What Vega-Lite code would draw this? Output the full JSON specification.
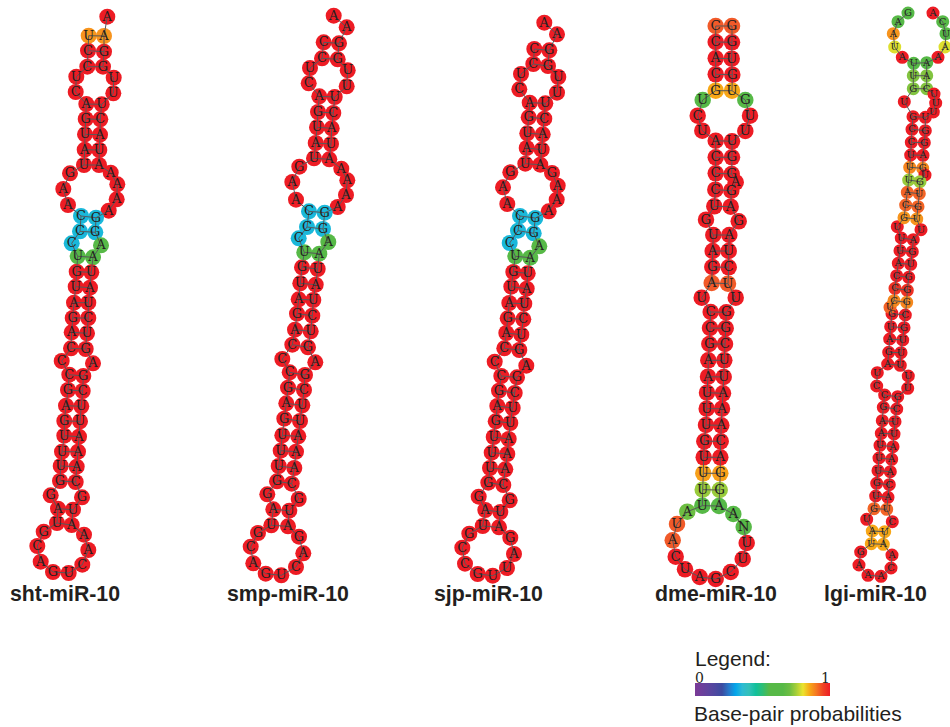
{"$schema":"https://vega.github.io/schema/vega-lite/v6.json","width":950,"height":727,"padding":0,"autosize":{"type":"none"},"background":"white","config":{"view":{"stroke":null}},
"datasets":{"nodes":[
{"h":"sht","b":"A","x":107.3,"y":16.7,"p":1},{"h":"sht","b":"A","x":104,"y":36,"p":0.865,"k":1},{"h":"sht","b":"G","x":104,"y":51.7,"p":1,"k":2},{"h":"sht","b":"G","x":103,"y":66.7,"p":1,"k":3},{"h":"sht","b":"U","x":113.7,"y":77.7,"p":1},{"h":"sht","b":"U","x":113.3,"y":93.3,"p":1},{"h":"sht","b":"U","x":101.7,"y":104.3,"p":1,"k":4},{"h":"sht","b":"C","x":100.3,"y":119.3,"p":1,"k":5},{"h":"sht","b":"A","x":100,"y":134.7,"p":1,"k":6},{"h":"sht","b":"U","x":99.3,"y":150,"p":1,"k":7},{"h":"sht","b":"A","x":99,"y":165,"p":1,"k":8},{"h":"sht","b":"A","x":110.7,"y":172.7,"p":1},{"h":"sht","b":"A","x":117.3,"y":184.3,"p":1},{"h":"sht","b":"A","x":116.7,"y":199.3,"p":1},{"h":"sht","b":"A","x":108.7,"y":210.7,"p":1},{"h":"sht","b":"G","x":96,"y":217.7,"p":0.34,"k":9},{"h":"sht","b":"G","x":95.3,"y":232.3,"p":0.34,"k":10},{"h":"sht","b":"A","x":101,"y":245.3,"p":0.6},{"h":"sht","b":"A","x":93,"y":257.3,"p":0.6,"k":11},{"h":"sht","b":"U","x":91.3,"y":272.3,"p":1,"k":12},{"h":"sht","b":"A","x":90,"y":287.7,"p":1,"k":13},{"h":"sht","b":"U","x":88.3,"y":302.7,"p":1,"k":14},{"h":"sht","b":"C","x":88.3,"y":318,"p":1,"k":15},{"h":"sht","b":"U","x":87,"y":333.3,"p":1,"k":16},{"h":"sht","b":"G","x":85.7,"y":349,"p":1,"k":17},{"h":"sht","b":"A","x":93,"y":363.3,"p":1},{"h":"sht","b":"G","x":83.3,"y":376,"p":1,"k":18},{"h":"sht","b":"C","x":82.7,"y":391,"p":1,"k":19},{"h":"sht","b":"U","x":81.3,"y":406.3,"p":1,"k":20},{"h":"sht","b":"U","x":80,"y":421.3,"p":1,"k":21},{"h":"sht","b":"A","x":79,"y":436.7,"p":1,"k":22},{"h":"sht","b":"A","x":78,"y":451.7,"p":1,"k":23},{"h":"sht","b":"A","x":76.7,"y":466.7,"p":1,"k":24},{"h":"sht","b":"C","x":75.7,"y":482,"p":1,"k":25},{"h":"sht","b":"G","x":82,"y":497.3,"p":1},{"h":"sht","b":"U","x":73,"y":509.7,"p":1,"k":26},{"h":"sht","b":"A","x":71.7,"y":525,"p":1,"k":27},{"h":"sht","b":"A","x":84,"y":534.7,"p":1},{"h":"sht","b":"A","x":88.3,"y":550,"p":1},{"h":"sht","b":"C","x":82.3,"y":564.7,"p":1},{"h":"sht","b":"U","x":68.7,"y":573,"p":1},{"h":"sht","b":"G","x":53,"y":572,"p":1},{"h":"sht","b":"A","x":40.7,"y":561.7,"p":1},{"h":"sht","b":"C","x":37.3,"y":546,"p":1},{"h":"sht","b":"G","x":43.7,"y":531.7,"p":1},{"h":"sht","b":"U","x":57,"y":523,"p":1,"k":27},{"h":"sht","b":"A","x":58,"y":508.7,"p":1,"k":26},{"h":"sht","b":"G","x":50.7,"y":495.3,"p":1},{"h":"sht","b":"G","x":60,"y":481,"p":1,"k":25},{"h":"sht","b":"U","x":60.7,"y":466,"p":1,"k":24},{"h":"sht","b":"U","x":62,"y":451.7,"p":1,"k":23},{"h":"sht","b":"U","x":64.3,"y":435.7,"p":1,"k":22},{"h":"sht","b":"G","x":64.3,"y":421,"p":1,"k":21},{"h":"sht","b":"A","x":66,"y":405.7,"p":1,"k":20},{"h":"sht","b":"G","x":68,"y":390,"p":1,"k":19},{"h":"sht","b":"C","x":69.3,"y":374.7,"p":1,"k":18},{"h":"sht","b":"C","x":61.7,"y":361,"p":1},{"h":"sht","b":"C","x":71,"y":348.3,"p":1,"k":17},{"h":"sht","b":"A","x":71.7,"y":332.3,"p":1,"k":16},{"h":"sht","b":"G","x":72.7,"y":318,"p":1,"k":15},{"h":"sht","b":"A","x":74,"y":302.7,"p":1,"k":14},{"h":"sht","b":"U","x":75.7,"y":286.7,"p":1,"k":13},{"h":"sht","b":"G","x":76.7,"y":271.7,"p":1,"k":12},{"h":"sht","b":"U","x":77.7,"y":256.3,"p":0.6,"k":11},{"h":"sht","b":"C","x":71.7,"y":243.3,"p":0.34},{"h":"sht","b":"C","x":80,"y":231.3,"p":0.34,"k":10},{"h":"sht","b":"C","x":81,"y":216,"p":0.34,"k":9},{"h":"sht","b":"A","x":68,"y":205,"p":1},{"h":"sht","b":"A","x":63.3,"y":189,"p":1},{"h":"sht","b":"G","x":70,"y":173.3,"p":1},{"h":"sht","b":"U","x":84,"y":165,"p":1,"k":8},{"h":"sht","b":"A","x":84.7,"y":149.7,"p":1,"k":7},{"h":"sht","b":"U","x":85,"y":134.3,"p":1,"k":6},{"h":"sht","b":"G","x":85.7,"y":119,"p":1,"k":5},{"h":"sht","b":"A","x":86.3,"y":104,"p":1,"k":4},{"h":"sht","b":"C","x":75.7,"y":92,"p":1},{"h":"sht","b":"U","x":76.3,"y":76.7,"p":1},{"h":"sht","b":"C","x":87.3,"y":66.7,"p":1,"k":3},{"h":"sht","b":"C","x":88,"y":50.7,"p":1,"k":2},{"h":"sht","b":"U","x":88.7,"y":35.7,"p":0.865,"k":1},
{"h":"smp","b":"A","x":333.7,"y":15.7,"p":1},{"h":"smp","b":"A","x":346.7,"y":27.3,"p":1},{"h":"smp","b":"G","x":339,"y":43.3,"p":1,"k":2},{"h":"smp","b":"G","x":337.7,"y":59.3,"p":1,"k":3},{"h":"smp","b":"U","x":347.7,"y":70.3,"p":1},{"h":"smp","b":"U","x":346.7,"y":86.3,"p":1},{"h":"smp","b":"U","x":334.7,"y":97,"p":1,"k":4},{"h":"smp","b":"C","x":333.3,"y":113,"p":1,"k":5},{"h":"smp","b":"A","x":331.7,"y":128.3,"p":1,"k":6},{"h":"smp","b":"U","x":331,"y":144,"p":1,"k":7},{"h":"smp","b":"A","x":329.3,"y":159.3,"p":1,"k":8},{"h":"smp","b":"A","x":341.3,"y":168.7,"p":1},{"h":"smp","b":"A","x":347.3,"y":180.3,"p":1},{"h":"smp","b":"A","x":346,"y":195,"p":1},{"h":"smp","b":"A","x":337.7,"y":207,"p":1},{"h":"smp","b":"G","x":324.7,"y":212.7,"p":0.34,"k":9},{"h":"smp","b":"G","x":323,"y":229,"p":0.34,"k":10},{"h":"smp","b":"A","x":328.3,"y":242,"p":0.6},{"h":"smp","b":"A","x":319.3,"y":253.7,"p":0.6,"k":11},{"h":"smp","b":"U","x":317.7,"y":269,"p":1,"k":12},{"h":"smp","b":"A","x":315.7,"y":284.7,"p":1,"k":13},{"h":"smp","b":"U","x":313.3,"y":300,"p":1,"k":14},{"h":"smp","b":"C","x":312.3,"y":315.7,"p":1,"k":15},{"h":"smp","b":"U","x":310.7,"y":331.3,"p":1,"k":16},{"h":"smp","b":"G","x":308,"y":347.3,"p":1,"k":17},{"h":"smp","b":"A","x":315.3,"y":362.3,"p":1},{"h":"smp","b":"G","x":305,"y":375,"p":1,"k":18},{"h":"smp","b":"C","x":304,"y":390,"p":1,"k":19},{"h":"smp","b":"U","x":302.3,"y":405.3,"p":1,"k":20},{"h":"smp","b":"U","x":300,"y":421,"p":1,"k":21},{"h":"smp","b":"A","x":298.3,"y":436.3,"p":1,"k":22},{"h":"smp","b":"A","x":296,"y":451.7,"p":1,"k":23},{"h":"smp","b":"A","x":294.3,"y":468,"p":1,"k":24},{"h":"smp","b":"C","x":291.7,"y":483.7,"p":1,"k":25},{"h":"smp","b":"G","x":298.7,"y":499,"p":1},{"h":"smp","b":"U","x":289.3,"y":510.7,"p":1,"k":26},{"h":"smp","b":"A","x":288,"y":526.3,"p":1,"k":27},{"h":"smp","b":"G","x":299,"y":536.7,"p":1},{"h":"smp","b":"A","x":303.3,"y":553.3,"p":1},{"h":"smp","b":"C","x":296,"y":567,"p":1},{"h":"smp","b":"U","x":281.3,"y":575.3,"p":1},{"h":"smp","b":"G","x":265.7,"y":573.7,"p":1},{"h":"smp","b":"A","x":253.3,"y":563.3,"p":1},{"h":"smp","b":"C","x":250.7,"y":546.7,"p":1},{"h":"smp","b":"G","x":258,"y":533,"p":1},{"h":"smp","b":"U","x":271.3,"y":525.3,"p":1,"k":27},{"h":"smp","b":"A","x":273.3,"y":509.3,"p":1,"k":26},{"h":"smp","b":"G","x":267.3,"y":494.3,"p":1},{"h":"smp","b":"G","x":277,"y":481.3,"p":1,"k":25},{"h":"smp","b":"U","x":278.7,"y":466,"p":1,"k":24},{"h":"smp","b":"U","x":280.7,"y":450.7,"p":1,"k":23},{"h":"smp","b":"U","x":282.3,"y":435.3,"p":1,"k":22},{"h":"smp","b":"G","x":284.3,"y":418.7,"p":1,"k":21},{"h":"smp","b":"A","x":286.3,"y":403.3,"p":1,"k":20},{"h":"smp","b":"G","x":288,"y":387.7,"p":1,"k":19},{"h":"smp","b":"C","x":289.7,"y":372.3,"p":1,"k":18},{"h":"smp","b":"C","x":282.3,"y":359,"p":1},{"h":"smp","b":"C","x":292.3,"y":344.7,"p":1,"k":17},{"h":"smp","b":"A","x":295,"y":329.7,"p":1,"k":16},{"h":"smp","b":"G","x":297,"y":313.7,"p":1,"k":15},{"h":"smp","b":"A","x":298.7,"y":299.3,"p":1,"k":14},{"h":"smp","b":"U","x":300.3,"y":283.3,"p":1,"k":13},{"h":"smp","b":"G","x":302,"y":267.3,"p":1,"k":12},{"h":"smp","b":"U","x":304.3,"y":252.3,"p":0.6,"k":11},{"h":"smp","b":"C","x":298.7,"y":238.3,"p":0.34},{"h":"smp","b":"C","x":307,"y":227,"p":0.34,"k":10},{"h":"smp","b":"C","x":309,"y":211.3,"p":0.34,"k":9},{"h":"smp","b":"A","x":296,"y":199.7,"p":1},{"h":"smp","b":"A","x":292.3,"y":182,"p":1},{"h":"smp","b":"G","x":299.3,"y":166.7,"p":1},{"h":"smp","b":"U","x":314,"y":158.3,"p":1,"k":8},{"h":"smp","b":"A","x":315.7,"y":143,"p":1,"k":7},{"h":"smp","b":"U","x":317,"y":127.3,"p":1,"k":6},{"h":"smp","b":"G","x":318,"y":112,"p":1,"k":5},{"h":"smp","b":"A","x":319.3,"y":96.3,"p":1,"k":4},{"h":"smp","b":"C","x":308.7,"y":83.3,"p":1},{"h":"smp","b":"U","x":310,"y":68,"p":1},{"h":"smp","b":"C","x":322,"y":58.3,"p":1,"k":3},{"h":"smp","b":"C","x":323.7,"y":42.3,"p":1,"k":2},
{"h":"sjp","b":"A","x":544.3,"y":22.7,"p":1},{"h":"sjp","b":"A","x":557,"y":34.3,"p":1},{"h":"sjp","b":"G","x":549.3,"y":50.3,"p":1,"k":2},{"h":"sjp","b":"G","x":548,"y":66,"p":1,"k":3},{"h":"sjp","b":"U","x":558.3,"y":77,"p":1},{"h":"sjp","b":"U","x":557,"y":92.7,"p":1},{"h":"sjp","b":"U","x":545.3,"y":103.3,"p":1,"k":4},{"h":"sjp","b":"C","x":544.3,"y":118.7,"p":1,"k":5},{"h":"sjp","b":"A","x":542.7,"y":134.3,"p":1,"k":6},{"h":"sjp","b":"U","x":541.7,"y":149.7,"p":1,"k":7},{"h":"sjp","b":"A","x":540.3,"y":164.7,"p":1,"k":8},{"h":"sjp","b":"G","x":552,"y":173,"p":1},{"h":"sjp","b":"A","x":557.7,"y":185.7,"p":1},{"h":"sjp","b":"A","x":556.7,"y":199.7,"p":1},{"h":"sjp","b":"A","x":548.7,"y":211.3,"p":1},{"h":"sjp","b":"G","x":535.3,"y":218,"p":0.34,"k":9},{"h":"sjp","b":"G","x":533.7,"y":233.3,"p":0.34,"k":10},{"h":"sjp","b":"A","x":539.3,"y":246.3,"p":0.6},{"h":"sjp","b":"A","x":530.3,"y":257.7,"p":0.6,"k":11},{"h":"sjp","b":"U","x":527.7,"y":273.3,"p":1,"k":12},{"h":"sjp","b":"A","x":526.7,"y":288.7,"p":1,"k":13},{"h":"sjp","b":"U","x":524.3,"y":303.7,"p":1,"k":14},{"h":"sjp","b":"C","x":523.3,"y":319.3,"p":1,"k":15},{"h":"sjp","b":"U","x":521.3,"y":334.7,"p":1,"k":16},{"h":"sjp","b":"G","x":519.3,"y":350,"p":1,"k":17},{"h":"sjp","b":"A","x":526.3,"y":365.7,"p":1},{"h":"sjp","b":"G","x":517,"y":377.3,"p":1,"k":18},{"h":"sjp","b":"C","x":514.7,"y":393,"p":1,"k":19},{"h":"sjp","b":"U","x":512.7,"y":408,"p":1,"k":20},{"h":"sjp","b":"U","x":510.3,"y":423,"p":1,"k":21},{"h":"sjp","b":"A","x":508.7,"y":439,"p":1,"k":22},{"h":"sjp","b":"A","x":507.3,"y":454,"p":1,"k":23},{"h":"sjp","b":"A","x":505.3,"y":469.3,"p":1,"k":24},{"h":"sjp","b":"C","x":503.3,"y":485,"p":1,"k":25},{"h":"sjp","b":"G","x":509.7,"y":500.3,"p":1},{"h":"sjp","b":"U","x":500.3,"y":512,"p":1,"k":26},{"h":"sjp","b":"A","x":499,"y":527.3,"p":1,"k":27},{"h":"sjp","b":"G","x":510.3,"y":537.7,"p":1},{"h":"sjp","b":"A","x":514,"y":554,"p":1},{"h":"sjp","b":"U","x":507,"y":568,"p":1},{"h":"sjp","b":"U","x":492.7,"y":575.7,"p":1},{"h":"sjp","b":"G","x":477.7,"y":574,"p":1},{"h":"sjp","b":"C","x":465,"y":563.7,"p":1},{"h":"sjp","b":"C","x":462.3,"y":547.7,"p":1},{"h":"sjp","b":"G","x":469.3,"y":533.7,"p":1},{"h":"sjp","b":"U","x":482.7,"y":526,"p":1,"k":27},{"h":"sjp","b":"A","x":485.3,"y":510,"p":1,"k":26},{"h":"sjp","b":"G","x":478.7,"y":496.7,"p":1},{"h":"sjp","b":"G","x":488.3,"y":482.7,"p":1,"k":25},{"h":"sjp","b":"U","x":490,"y":468,"p":1,"k":24},{"h":"sjp","b":"U","x":491.7,"y":452.7,"p":1,"k":23},{"h":"sjp","b":"U","x":493.7,"y":437,"p":1,"k":22},{"h":"sjp","b":"G","x":495.7,"y":421.3,"p":1,"k":21},{"h":"sjp","b":"A","x":497.3,"y":406,"p":1,"k":20},{"h":"sjp","b":"G","x":499,"y":390.7,"p":1,"k":19},{"h":"sjp","b":"C","x":501.3,"y":376,"p":1,"k":18},{"h":"sjp","b":"C","x":494.7,"y":361.7,"p":1},{"h":"sjp","b":"C","x":504.3,"y":348.3,"p":1,"k":17},{"h":"sjp","b":"A","x":506.3,"y":333,"p":1,"k":16},{"h":"sjp","b":"G","x":507.7,"y":318.3,"p":1,"k":15},{"h":"sjp","b":"A","x":509.3,"y":303,"p":1,"k":14},{"h":"sjp","b":"U","x":511.3,"y":286.7,"p":1,"k":13},{"h":"sjp","b":"G","x":513.3,"y":272,"p":1,"k":12},{"h":"sjp","b":"U","x":515.3,"y":256.3,"p":0.6,"k":11},{"h":"sjp","b":"C","x":509.7,"y":243,"p":0.34},{"h":"sjp","b":"C","x":518,"y":230.7,"p":0.34,"k":10},{"h":"sjp","b":"C","x":520,"y":216,"p":0.34,"k":9},{"h":"sjp","b":"A","x":507.3,"y":204,"p":1},{"h":"sjp","b":"A","x":503,"y":187.3,"p":1},{"h":"sjp","b":"G","x":510.3,"y":172.3,"p":1},{"h":"sjp","b":"U","x":525.3,"y":163.7,"p":1,"k":8},{"h":"sjp","b":"A","x":526.7,"y":148,"p":1,"k":7},{"h":"sjp","b":"U","x":527.3,"y":133.3,"p":1,"k":6},{"h":"sjp","b":"G","x":528.7,"y":117.3,"p":1,"k":5},{"h":"sjp","b":"A","x":529.7,"y":102.7,"p":1,"k":4},{"h":"sjp","b":"C","x":519.3,"y":89.3,"p":1},{"h":"sjp","b":"U","x":521,"y":74,"p":1},{"h":"sjp","b":"C","x":533.3,"y":64,"p":1,"k":3},{"h":"sjp","b":"C","x":534.3,"y":49,"p":1,"k":2},
{"h":"dme","b":"C","x":715.7,"y":26,"p":0.93,"k":1},{"h":"dme","b":"C","x":715.7,"y":42,"p":1,"k":2},{"h":"dme","b":"A","x":715.7,"y":58.3,"p":1,"k":3},{"h":"dme","b":"C","x":715.7,"y":74.3,"p":1,"k":4},{"h":"dme","b":"G","x":715.7,"y":90.7,"p":0.85,"k":5},{"h":"dme","b":"U","x":702.7,"y":100,"p":0.62},{"h":"dme","b":"C","x":697.7,"y":115.7,"p":1},{"h":"dme","b":"U","x":702.3,"y":130.7,"p":1},{"h":"dme","b":"A","x":715.7,"y":140.7,"p":1,"k":6},{"h":"dme","b":"C","x":715.7,"y":157.3,"p":1,"k":7},{"h":"dme","b":"C","x":715.7,"y":173.3,"p":1,"k":8},{"h":"dme","b":"C","x":715.3,"y":189.7,"p":1,"k":9},{"h":"dme","b":"U","x":714.3,"y":206.3,"p":1,"k":10},{"h":"dme","b":"G","x":706,"y":219.7,"p":1},{"h":"dme","b":"U","x":713.3,"y":235,"p":1,"k":11},{"h":"dme","b":"A","x":712.7,"y":251,"p":1,"k":12},{"h":"dme","b":"G","x":712.3,"y":267,"p":1,"k":13},{"h":"dme","b":"A","x":711.7,"y":283,"p":0.93,"k":14},{"h":"dme","b":"U","x":701.7,"y":297.7,"p":1},{"h":"dme","b":"C","x":710.7,"y":312,"p":1,"k":15},{"h":"dme","b":"C","x":710,"y":328,"p":1,"k":16},{"h":"dme","b":"G","x":709.3,"y":344,"p":1,"k":17},{"h":"dme","b":"A","x":708.3,"y":360.3,"p":1,"k":18},{"h":"dme","b":"A","x":708,"y":376.7,"p":1,"k":19},{"h":"dme","b":"U","x":707,"y":392.7,"p":1,"k":20},{"h":"dme","b":"U","x":706.7,"y":408.7,"p":1,"k":21},{"h":"dme","b":"U","x":706,"y":425,"p":1,"k":22},{"h":"dme","b":"G","x":704.3,"y":441.3,"p":1,"k":23},{"h":"dme","b":"U","x":703.7,"y":457.3,"p":1,"k":24},{"h":"dme","b":"U","x":703.3,"y":473.3,"p":0.855,"k":25},{"h":"dme","b":"U","x":702.7,"y":489.7,"p":0.74,"k":26},{"h":"dme","b":"U","x":702.3,"y":505.7,"p":0.6,"k":27},{"h":"dme","b":"A","x":687.3,"y":511.7,"p":0.7},{"h":"dme","b":"U","x":677,"y":524,"p":0.93},{"h":"dme","b":"A","x":672.7,"y":540.3,"p":0.93},{"h":"dme","b":"C","x":675.7,"y":556.7,"p":1},{"h":"dme","b":"U","x":685,"y":569.3,"p":1},{"h":"dme","b":"A","x":699.7,"y":577,"p":1},{"h":"dme","b":"G","x":715.7,"y":579,"p":1},{"h":"dme","b":"C","x":730.7,"y":572,"p":1},{"h":"dme","b":"U","x":742.7,"y":559,"p":1},{"h":"dme","b":"U","x":746.7,"y":543,"p":1},{"h":"dme","b":"N","x":743.7,"y":527,"p":0.6},{"h":"dme","b":"A","x":733.3,"y":514,"p":0.6},{"h":"dme","b":"A","x":719,"y":506,"p":0.6,"k":27},{"h":"dme","b":"G","x":719.7,"y":490,"p":0.74,"k":26},{"h":"dme","b":"G","x":720.3,"y":473.3,"p":0.855,"k":25},{"h":"dme","b":"A","x":720.3,"y":457.3,"p":1,"k":24},{"h":"dme","b":"C","x":720.7,"y":441.3,"p":1,"k":23},{"h":"dme","b":"A","x":721.3,"y":425.3,"p":1,"k":22},{"h":"dme","b":"A","x":722,"y":408.7,"p":1,"k":21},{"h":"dme","b":"A","x":723,"y":393.3,"p":1,"k":20},{"h":"dme","b":"U","x":723.7,"y":377,"p":1,"k":19},{"h":"dme","b":"U","x":724.3,"y":360.3,"p":1,"k":18},{"h":"dme","b":"C","x":725,"y":344,"p":1,"k":17},{"h":"dme","b":"G","x":725.7,"y":328.3,"p":1,"k":16},{"h":"dme","b":"G","x":726.3,"y":312.3,"p":1,"k":15},{"h":"dme","b":"U","x":735.7,"y":297.7,"p":1},{"h":"dme","b":"U","x":728,"y":283.7,"p":0.93,"k":14},{"h":"dme","b":"C","x":728.7,"y":267.3,"p":1,"k":13},{"h":"dme","b":"U","x":728.7,"y":251,"p":1,"k":12},{"h":"dme","b":"A","x":729.3,"y":235,"p":1,"k":11},{"h":"dme","b":"G","x":738.7,"y":221.3,"p":1},{"h":"dme","b":"A","x":730.7,"y":206.7,"p":1,"k":10},{"h":"dme","b":"G","x":731.3,"y":190.7,"p":1,"k":9},{"h":"dme","b":"A","x":735.7,"y":182.3,"p":1},{"h":"dme","b":"G","x":731.7,"y":174,"p":1,"k":8},{"h":"dme","b":"G","x":732,"y":157.3,"p":1,"k":7},{"h":"dme","b":"U","x":732,"y":141.3,"p":1,"k":6},{"h":"dme","b":"U","x":745.3,"y":131,"p":1},{"h":"dme","b":"U","x":750,"y":115.7,"p":1},{"h":"dme","b":"G","x":745.3,"y":100,"p":0.62},{"h":"dme","b":"U","x":732,"y":90.7,"p":0.85,"k":5},{"h":"dme","b":"G","x":732.3,"y":74.7,"p":1,"k":4},{"h":"dme","b":"U","x":731.7,"y":58.7,"p":1,"k":3},{"h":"dme","b":"G","x":732,"y":42.3,"p":1,"k":2},{"h":"dme","b":"G","x":732,"y":26,"p":0.93,"k":1},
{"h":"lgi","b":"A","x":933,"y":13,"p":1},{"h":"lgi","b":"C","x":942.7,"y":21.7,"p":0.6},{"h":"lgi","b":"U","x":946,"y":33.7,"p":0.6},{"h":"lgi","b":"A","x":945,"y":47,"p":0.79},{"h":"lgi","b":"A","x":938,"y":57.3,"p":1},{"h":"lgi","b":"A","x":926.7,"y":62.7,"p":0.6,"k":1},{"h":"lgi","b":"A","x":926.7,"y":75.7,"p":0.72,"k":2},{"h":"lgi","b":"C","x":926.7,"y":88.7,"p":0.72,"k":3},{"h":"lgi","b":"U","x":934,"y":94,"p":1},{"h":"lgi","b":"U","x":935.7,"y":103,"p":1},{"h":"lgi","b":"U","x":933.3,"y":112,"p":1},{"h":"lgi","b":"U","x":925.3,"y":117.3,"p":1,"k":4},{"h":"lgi","b":"G","x":925.3,"y":130.7,"p":1,"k":5},{"h":"lgi","b":"G","x":924.3,"y":142.7,"p":1,"k":6},{"h":"lgi","b":"A","x":923,"y":155.3,"p":1,"k":7},{"h":"lgi","b":"G","x":922.7,"y":168.3,"p":0.88,"k":8},{"h":"lgi","b":"U","x":925,"y":175,"p":1},{"h":"lgi","b":"G","x":920,"y":181.7,"p":0.74,"k":9},{"h":"lgi","b":"U","x":919.3,"y":193.7,"p":0.92,"k":10},{"h":"lgi","b":"G","x":918,"y":206.7,"p":0.92,"k":11},{"h":"lgi","b":"U","x":916.7,"y":219,"p":0.865,"k":12},{"h":"lgi","b":"U","x":921,"y":229.7,"p":1},{"h":"lgi","b":"A","x":913.3,"y":239.7,"p":1,"k":13},{"h":"lgi","b":"G","x":912.3,"y":251.7,"p":1,"k":14},{"h":"lgi","b":"U","x":910.7,"y":264.3,"p":1,"k":15},{"h":"lgi","b":"G","x":908.7,"y":277.3,"p":1,"k":16},{"h":"lgi","b":"G","x":907.3,"y":290.3,"p":0.96,"k":17},{"h":"lgi","b":"G","x":906.7,"y":302.3,"p":0.88,"k":18},{"h":"lgi","b":"C","x":905.3,"y":315,"p":1,"k":19},{"h":"lgi","b":"G","x":904,"y":327.7,"p":1,"k":20},{"h":"lgi","b":"U","x":902.7,"y":340,"p":1,"k":21},{"h":"lgi","b":"U","x":901,"y":352.7,"p":1,"k":22},{"h":"lgi","b":"U","x":900.3,"y":365.3,"p":1,"k":23},{"h":"lgi","b":"U","x":908.3,"y":376,"p":1},{"h":"lgi","b":"U","x":907.7,"y":388.3,"p":1},{"h":"lgi","b":"G","x":897.7,"y":396.7,"p":1,"k":24},{"h":"lgi","b":"C","x":896.7,"y":409,"p":1,"k":25},{"h":"lgi","b":"U","x":895,"y":421.7,"p":1,"k":26},{"h":"lgi","b":"U","x":894,"y":434,"p":1,"k":27},{"h":"lgi","b":"A","x":893,"y":446.7,"p":1,"k":28},{"h":"lgi","b":"A","x":891.7,"y":459.3,"p":1,"k":29},{"h":"lgi","b":"A","x":890.3,"y":471.7,"p":1,"k":30},{"h":"lgi","b":"C","x":889.3,"y":484.7,"p":1,"k":31},{"h":"lgi","b":"A","x":888,"y":497.3,"p":1,"k":32},{"h":"lgi","b":"U","x":886.7,"y":509.3,"p":0.92,"k":33},{"h":"lgi","b":"C","x":892.3,"y":521.7,"p":1},{"h":"lgi","b":"U","x":884.7,"y":531.7,"p":0.85,"k":34},{"h":"lgi","b":"A","x":883.3,"y":544.3,"p":0.85,"k":35},{"h":"lgi","b":"A","x":892,"y":555,"p":1},{"h":"lgi","b":"C","x":891,"y":568,"p":1},{"h":"lgi","b":"A","x":881,"y":576.3,"p":1},{"h":"lgi","b":"A","x":868,"y":575.3,"p":1},{"h":"lgi","b":"A","x":859,"y":565,"p":1},{"h":"lgi","b":"G","x":860.7,"y":552,"p":1},{"h":"lgi","b":"U","x":871.3,"y":543.7,"p":0.85,"k":35},{"h":"lgi","b":"A","x":872.3,"y":531,"p":0.85,"k":34},{"h":"lgi","b":"U","x":866.7,"y":519.3,"p":1},{"h":"lgi","b":"G","x":874,"y":508.7,"p":0.92,"k":33},{"h":"lgi","b":"U","x":875.7,"y":496,"p":1,"k":32},{"h":"lgi","b":"G","x":876.7,"y":483.3,"p":1,"k":31},{"h":"lgi","b":"U","x":878,"y":470.7,"p":1,"k":30},{"h":"lgi","b":"U","x":879,"y":458,"p":1,"k":29},{"h":"lgi","b":"U","x":880,"y":445.3,"p":1,"k":28},{"h":"lgi","b":"A","x":881.3,"y":433.3,"p":1,"k":27},{"h":"lgi","b":"A","x":882.3,"y":420.7,"p":1,"k":26},{"h":"lgi","b":"G","x":883.3,"y":407.3,"p":1,"k":25},{"h":"lgi","b":"C","x":884.7,"y":395,"p":1,"k":24},{"h":"lgi","b":"C","x":876.7,"y":386,"p":1},{"h":"lgi","b":"U","x":877.3,"y":372.7,"p":1},{"h":"lgi","b":"A","x":887.7,"y":364,"p":1,"k":23},{"h":"lgi","b":"G","x":888.7,"y":352.3,"p":1,"k":22},{"h":"lgi","b":"A","x":889.7,"y":339,"p":1,"k":21},{"h":"lgi","b":"U","x":890.7,"y":326.7,"p":1,"k":20},{"h":"lgi","b":"G","x":892,"y":313.7,"p":1,"k":19},{"h":"lgi","b":"U","x":890,"y":307.3,"p":0.92},{"h":"lgi","b":"C","x":894,"y":300.7,"p":0.88,"k":18},{"h":"lgi","b":"C","x":895,"y":288.3,"p":0.96,"k":17},{"h":"lgi","b":"C","x":896.7,"y":275.7,"p":1,"k":16},{"h":"lgi","b":"A","x":898.3,"y":263.3,"p":1,"k":15},{"h":"lgi","b":"U","x":900,"y":250.7,"p":1,"k":14},{"h":"lgi","b":"U","x":901.3,"y":238,"p":1,"k":13},{"h":"lgi","b":"U","x":897.3,"y":226.7,"p":1},{"h":"lgi","b":"G","x":904,"y":217.7,"p":0.865,"k":12},{"h":"lgi","b":"C","x":905.7,"y":205,"p":0.92,"k":11},{"h":"lgi","b":"A","x":907.3,"y":192.3,"p":0.92,"k":10},{"h":"lgi","b":"U","x":908.7,"y":180,"p":0.74,"k":9},{"h":"lgi","b":"U","x":909.7,"y":167.3,"p":0.88,"k":8},{"h":"lgi","b":"U","x":910.7,"y":155,"p":1,"k":7},{"h":"lgi","b":"C","x":911.3,"y":142.3,"p":1,"k":6},{"h":"lgi","b":"C","x":912,"y":129.3,"p":1,"k":5},{"h":"lgi","b":"G","x":913,"y":116.7,"p":1,"k":4},{"h":"lgi","b":"U","x":904.3,"y":101.7,"p":1},{"h":"lgi","b":"G","x":913.3,"y":88.7,"p":0.72,"k":3},{"h":"lgi","b":"U","x":913.3,"y":75.7,"p":0.72,"k":2},{"h":"lgi","b":"U","x":913.7,"y":63.3,"p":0.6,"k":1},{"h":"lgi","b":"A","x":902.3,"y":57.3,"p":1},{"h":"lgi","b":"U","x":894.7,"y":47,"p":0.79},{"h":"lgi","b":"A","x":893.3,"y":33.7,"p":0.865},{"h":"lgi","b":"A","x":898,"y":21.7,"p":0.6},{"h":"lgi","b":"G","x":908,"y":13,"p":0.6}
]},
"data":{"name":"nodes"},
"layer":[
{"mark":{"type":"point","shape":"circle","filled":true,"opacity":1,"strokeWidth":0},"encoding":{
"x":{"field":"x","type":"quantitative","axis":null,"scale":{"domain":[0,950],"range":[0,950],"nice":false,"zero":false}},
"y":{"field":"y","type":"quantitative","axis":null,"scale":{"domain":[0,727],"range":[0,727],"nice":false,"zero":false}},
"size":{"field":"h","type":"nominal","legend":null,"scale":{"type":"ordinal","domain":["sht","smp","sjp","dme","lgi"],"range":[256,256,256,272,170]}},
"color":{"field":"p","type":"quantitative","scale":{"type":"linear","domain":[0,0.2,0.31,0.37,0.55,0.68,0.73,0.8,0.865,0.93,0.97,1],"range":["#7B3A96","#3B4BA0","#00AEEF","#4DBFC5","#57B947","#57B947","#8CC63F","#EBE32E","#F7941D","#F15A29","#ED1C24","#ED1C24"]},
"legend":{"orient":"none","legendX":695,"legendY":649,"direction":"horizontal","title":"Legend:","titleFont":"Liberation Sans","titleFontSize":21,"titleFontWeight":"normal","titleColor":"#231F20","titlePadding":13,"gradientLength":135,"gradientThickness":13,"values":[0,1],"format":"d","labelFont":"DejaVu Serif","labelFontSize":14,"labelColor":"#231F20","labelOffset":-24.5}}}},
{"mark":{"type":"line","order":false,"color":"#58595B","strokeWidth":1},"encoding":{"x":{"field":"x","type":"quantitative"},"y":{"field":"y","type":"quantitative"},"detail":{"field":"h"}}},
{"transform":[{"filter":"isValid(datum.k)"}],"mark":{"type":"line","order":false,"color":"#58595B","strokeWidth":1},"encoding":{"x":{"field":"x","type":"quantitative"},"y":{"field":"y","type":"quantitative"},"detail":[{"field":"h"},{"field":"k"}]}},
{"mark":{"type":"text","font":"DejaVu Serif","align":"center","baseline":"middle","color":"#231F20"},"encoding":{"x":{"field":"x","type":"quantitative"},"y":{"field":"y","type":"quantitative"},"text":{"field":"b"},"size":{"field":"h","type":"nominal","legend":null,"scale":{"type":"ordinal","domain":["sht","smp","sjp","dme","lgi"],"range":[13,13,13,13.5,10]}}}},
{"data":{"values":[{"t":"sht-miR-10","x":10,"y":601},{"t":"smp-miR-10","x":227,"y":601},{"t":"sjp-miR-10","x":434,"y":601},{"t":"dme-miR-10","x":655,"y":601},{"t":"lgi-miR-10","x":824,"y":601}]},"mark":{"type":"text","font":"Liberation Sans","fontWeight":"bold","fontSize":21.3,"align":"left","baseline":"alphabetic","color":"#231F20"},"encoding":{"x":{"field":"x","type":"quantitative"},"y":{"field":"y","type":"quantitative"},"text":{"field":"t"}}},
{"data":{"values":[{"t":"Base-pair probabilities","x":694,"y":721}]},"mark":{"type":"text","font":"Liberation Sans","fontSize":21,"align":"left","baseline":"alphabetic","color":"#231F20"},"encoding":{"x":{"field":"x","type":"quantitative"},"y":{"field":"y","type":"quantitative"},"text":{"field":"t"}}}
],
"resolve":{"scale":{"size":"independent"}}}
